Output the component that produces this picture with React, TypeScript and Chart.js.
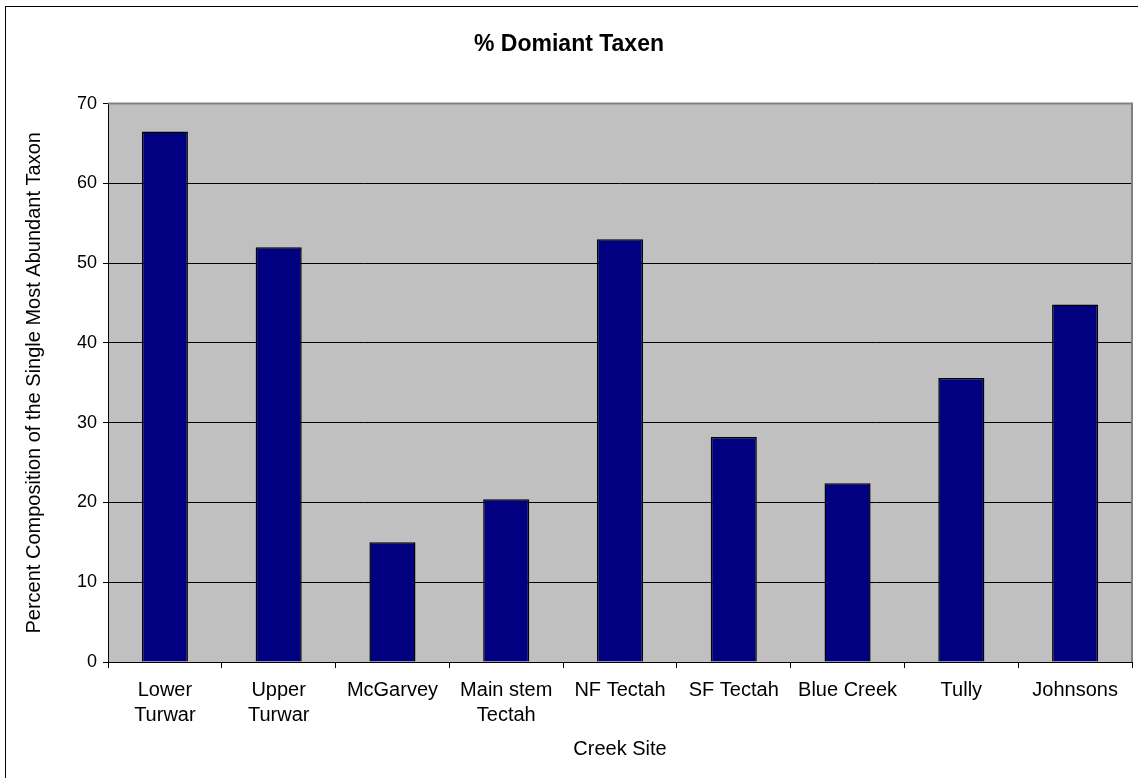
import React, { useEffect, useRef } from "react";
import { Chart, registerables } from "chart.js";

Chart.register(...registerables);

const categories: (string | string[])[] = [
  ["Lower", "Turwar"],
  ["Upper", "Turwar"],
  "McGarvey",
  ["Main stem", "Tectah"],
  "NF Tectah",
  "SF Tectah",
  "Blue Creek",
  "Tully",
  "Johnsons",
];
const dominantPercent: number[] = [66.5, 52.0, 15.0, 20.4, 53.0, 28.2, 22.4, 35.6, 44.8];
const yTicks: number[] = [0, 10, 20, 30, 40, 50, 60, 70];

const FONT = "'Liberation Sans', Arial, Helvetica, sans-serif";

const plotFrame = {
  id: "plotFrame",
  beforeDraw(chart: any) {
    const { ctx, chartArea } = chart;
    ctx.save();
    ctx.fillStyle = "#C0C0C0";
    ctx.fillRect(chartArea.left, chartArea.top, chartArea.right - chartArea.left, chartArea.bottom - chartArea.top);
    ctx.restore();
  },
  afterDraw(chart: any) {
    const { ctx, chartArea } = chart;
    ctx.save();
    ctx.strokeStyle = "#808080";
    ctx.lineWidth = 2;
    ctx.beginPath();
    ctx.moveTo(chartArea.left, chartArea.top);
    ctx.lineTo(chartArea.right, chartArea.top);
    ctx.lineTo(chartArea.right, chartArea.bottom);
    ctx.stroke();
    ctx.restore();
  },
};

export default function App() {
  const ref = useRef<HTMLCanvasElement | null>(null);

  useEffect(() => {
    if (!ref.current) return;
    const chart = new Chart(ref.current, {
      type: "bar",
      data: {
        labels: categories,
        datasets: [
          {
            data: dominantPercent,
            backgroundColor: "#000080",
            borderColor: "#000000",
            borderWidth: 1.5,
            barPercentage: 0.405,
            categoryPercentage: 1,
          },
        ],
      },
      plugins: [plotFrame],
      options: {
        responsive: false,
        animation: false,
        layout: { padding: { left: 0, right: 6, top: 0, bottom: 0 } },
        plugins: {
          legend: { display: false },
          tooltip: { enabled: false },
          title: {
            display: true,
            text: "% Domiant Taxen",
            color: "#000",
            font: { family: FONT, size: 23, weight: "bold", lineHeight: 1.2 },
            padding: { top: 24, bottom: 45 },
          },
        },
        scales: {
          x: {
            offset: true,
            afterFit(scale: any) {
              scale.height = 116;
            },
            grid: {
              offset: true,
              drawOnChartArea: false,
              drawTicks: true,
              tickLength: 6,
              color: "#000",
            },
            border: { display: true, color: "#000", width: 1 },
            ticks: {
              color: "#000",
              font: { family: FONT, size: 20, lineHeight: 1.25 },
              padding: 10,
              maxRotation: 0,
              autoSkip: false,
            },
            title: {
              display: true,
              text: "Creek Site",
              color: "#000",
              font: { family: FONT, size: 20, lineHeight: 1.2 },
              padding: { top: 0, bottom: 17 },
            },
          },
          y: {
            min: 0,
            max: 70,
            afterFit(scale: any) {
              scale.width = 102;
            },
            afterBuildTicks(scale: any) {
              scale.ticks = yTicks.map((v) => ({ value: v }));
            },
            grid: {
              color: "#000",
              lineWidth: 1,
              drawTicks: true,
              tickLength: 5,
            },
            border: { display: true, color: "#000", width: 1 },
            ticks: {
              color: "#000",
              font: { family: FONT, size: 18 },
              padding: 6,
              stepSize: 10,
            },
            title: {
              display: true,
              text: "Percent Composition of the Single Most Abundant Taxon",
              color: "#000",
              font: { family: FONT, size: 20, lineHeight: 1.2 },
              padding: { top: 16, bottom: 0 },
            },
          },
        },
      },
    } as any);
    return () => chart.destroy();
  }, []);

  return (
    <div
      style={{
        position: "absolute",
        left: 5,
        top: 6,
        width: 1132,
        height: 771,
        borderLeft: "1px solid #000",
        borderTop: "1px solid #000",
        background: "#fff",
      }}
    >
      <canvas ref={ref} width={1132} height={771} style={{ display: "block" }} />
    </div>
  );
}
